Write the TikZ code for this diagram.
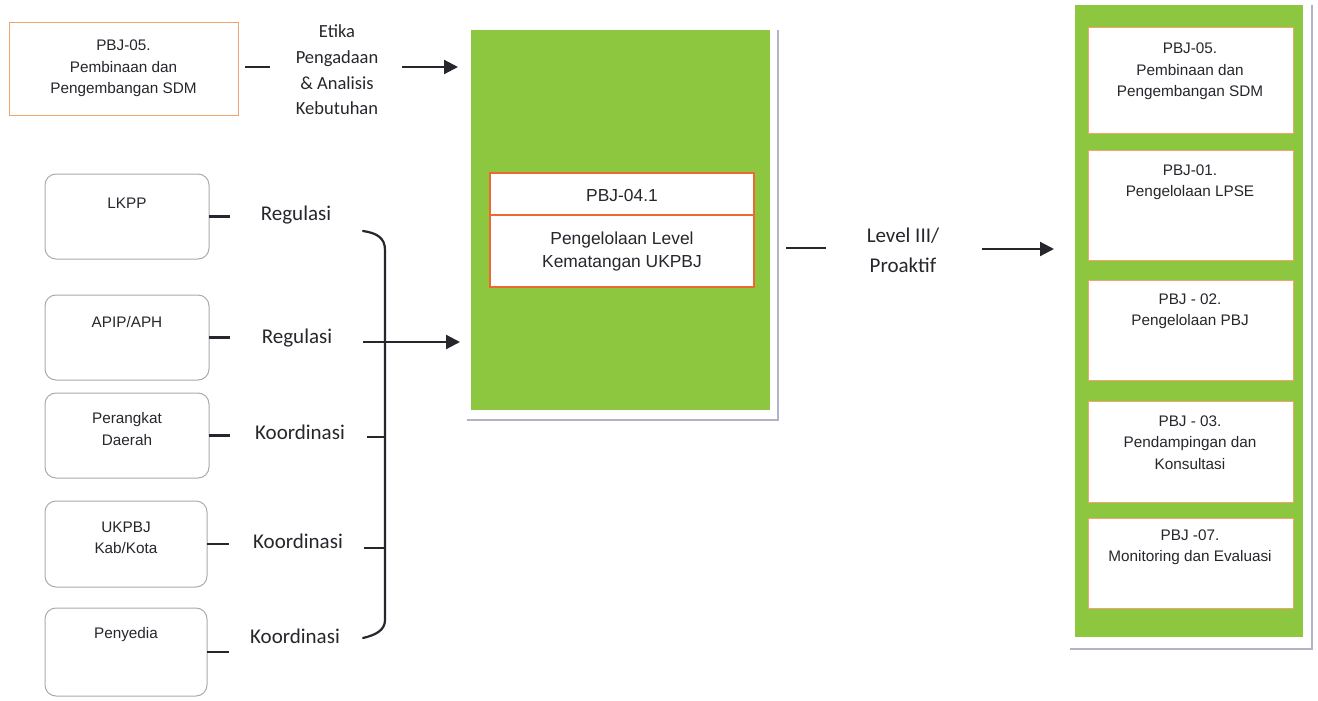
\documentclass[tikz,border=0pt]{standalone}
\usepackage{fontspec}
\setmainfont{Liberation Sans}
\newfontfamily\lblfont{Carlito}
\usetikzlibrary{arrows.meta,calc}

\definecolor{leaf}{RGB}{141,198,63}
\definecolor{rim}{RGB}{240,165,110}
\definecolor{rimstrong}{RGB}{238,105,50}
\definecolor{shade}{RGB}{178,178,202}
\definecolor{boxgray}{RGB}{170,170,176}
\definecolor{ink}{RGB}{38,38,44}

\begin{document}
\begin{tikzpicture}[x=1pt,y=-1pt,
  rectbox/.style={anchor=north west,inner sep=0pt,outer sep=0pt},
  srcbox/.style={rectbox,draw=boxgray,line width=1pt,rounded corners=11pt,fill=white},
  unitbox/.style={rectbox,draw=rim,line width=1pt,fill=white},
  greenbox/.style={rectbox,fill=leaf},
  boxtext/.style={text=ink,align=center,inner sep=0pt,font=\fontsize{15.3}{21.5}\selectfont},
  coretext/.style={text=ink,align=center,inner sep=0pt,font=\fontsize{17.4}{23}\selectfont},
  lbl/.style={text=ink,align=center,inner sep=0pt,font=\lblfont\fontsize{21}{30}\selectfont},
  smalllbl/.style={text=ink,align=center,inner sep=0pt,font=\lblfont\fontsize{18.5}{25.6}\selectfont},
  link/.style={draw=ink,line width=2.2pt},
  arrowlink/.style={link,-{Triangle[length=14pt,width=14pt]}},
  shadow/.style={draw=shade,line width=2pt}]

\useasboundingbox (0,0) rectangle (1318,701);
\fill[white] (0,0) rectangle (1318,701);

% ---------- top source: PBJ-05 ----------
\node[unitbox,minimum width=229,minimum height=92] (pbjfive) at (9,23) {};
\node[boxtext] (pbjfiveT) at (123.5,68.5) {PBJ-05.\\Pembinaan dan\\Pengembangan SDM};
\node[smalllbl] (etika) at (337,70) {Etika\\Pengadaan\\\& Analisis\\Kebutuhan};

% ---------- central block ----------
\draw[shadow] (778,30) -- (778,420) -- (467,420);
\node[greenbox,minimum width=299,minimum height=380] (core) at (471,30) {};
\node[rectbox,draw=rimstrong,fill=white,line width=2pt,minimum width=264,minimum height=42] (coreHead) at (490,173) {};
\node[rectbox,draw=rimstrong,fill=white,line width=2pt,minimum width=264,minimum height=72] (coreBody) at (490,215) {};
\node[coretext] (coreHeadT) at (622,196) {PBJ-04.1};
\node[coretext] (coreBodyT) at (622,251.5) {Pengelolaan Level\\Kematangan UKPBJ};

% ---------- left sources ----------
\node[srcbox,minimum width=164,minimum height=85] (lkpp) at (45,174) {};
\node[srcbox,minimum width=164,minimum height=85] (apip) at (45,295) {};
\node[srcbox,minimum width=164,minimum height=85] (perangkat) at (45,393) {};
\node[srcbox,minimum width=162,minimum height=86] (ukpbj) at (45,501) {};
\node[srcbox,minimum width=162,minimum height=88] (penyedia) at (45,608) {};

\node[boxtext] (lkppT) at (127,203) {LKPP};
\node[boxtext] (apipT) at (127,322) {APIP/APH};
\node[boxtext] (perangkatT) at (127,429) {Perangkat\\Daerah};
\node[boxtext] (ukpbjT) at (126,538) {UKPBJ\\Kab/Kota};
\node[boxtext] (penyediaT) at (126,635) {Penyedia};

\node[lbl] (regA) at (296,215) {Regulasi};
\node[lbl] (regB) at (297,338) {Regulasi};
\node[lbl] (korA) at (300,432) {Koordinasi};
\node[lbl] (korB) at (298,541) {Koordinasi};
\node[lbl] (korC) at (295,636) {Koordinasi};

% ---------- right block ----------
\draw[shadow] (1312,5) -- (1312,649) -- (1070,649);
\node[greenbox,minimum width=228,minimum height=632] (target) at (1075,5) {};
\node[unitbox,minimum width=205,minimum height=105] (tA) at (1088,28) {};
\node[unitbox,minimum width=205,minimum height=110] (tB) at (1088,150) {};
\node[unitbox,minimum width=205,minimum height=100] (tC) at (1088,280) {};
\node[unitbox,minimum width=205,minimum height=101] (tD) at (1088,401) {};
\node[unitbox,minimum width=205,minimum height=90] (tE) at (1088,518) {};

\node[boxtext] (tAT) at (1190,71.5) {PBJ-05.\\Pembinaan dan\\Pengembangan SDM};
\node[boxtext] (tBT) at (1190,182) {PBJ-01.\\Pengelolaan LPSE};
\node[boxtext] (tCT) at (1190,311) {PBJ - 02.\\Pengelolaan PBJ};
\node[boxtext] (tDT) at (1190,442.5) {PBJ - 03.\\Pendampingan dan\\Konsultasi};
\node[boxtext] (tET) at (1190,547) {PBJ -07.\\Monitoring dan Evaluasi};

\node[lbl] (level) at (903,250) {Level III/\\Proaktif};

% ---------- connectors ----------
% top row
\coordinate (etikaIn) at (245,67);
\coordinate (etikaOut) at (402,67);
\coordinate (coreInTop) at (458,67);
\draw[link] (etikaIn) -- ++(25,0);
\draw[arrowlink] (etikaOut) -- (coreInTop);

% short stubs leaving the left boxes
\draw[link] (lkpp.east) -- ++(21,0);
\draw[link] (apip.east) -- ++(21,0);
\draw[link] (perangkat.east) -- ++(21,0);
\draw[link] (ukpbj.east) -- ++(22,0);
\draw[link] (penyedia.east) -- ++(22,0);

% brace gathering the five relations
\coordinate (braceTop) at (363,231);
\coordinate (braceBot) at (363,638);
\coordinate (spineTop) at (385,250);
\coordinate (spineBot) at (385,620);
\draw[link,line cap=round] (braceTop) .. controls (377,233) and (385,238) .. (spineTop)
  -- (spineBot) .. controls (385,630) and (376,635) .. (braceBot);
\draw[link] (367,437) -- (385,437);
\draw[link] (364,548) -- (385,548);
\coordinate (braceOut) at (363,342);
\coordinate (coreInMid) at (460,342);
\draw[arrowlink] (braceOut) -- (coreInMid);

% central block to right block
\coordinate (levelIn) at (786,248);
\coordinate (levelOut) at (982,249);
\coordinate (targetIn) at (1054,249);
\draw[link] (levelIn) -- ++(40,0);
\draw[arrowlink] (levelOut) -- (targetIn);
\end{tikzpicture}
\end{document}
